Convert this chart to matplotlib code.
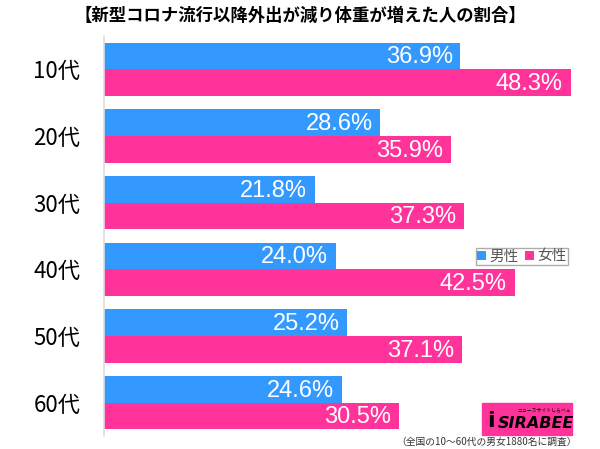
import matplotlib.pyplot as plt, numpy as np
from matplotlib.patches import Rectangle

plt.rcParams['font.family'] = ['Noto Sans CJK JP', 'DejaVu Sans']

ages = ["10代", "20代", "30代", "40代", "50代", "60代"]
male = [36.9, 28.6, 21.8, 24.0, 25.2, 24.6]
female = [48.3, 35.9, 37.3, 42.5, 37.1, 30.5]
series_names = ["男性", "女性"]
title = "【新型コロナ流行以降外出が減り体重が増えた人の割合】"
note = "（全国の10～60代の男女1880名に調査）"

blue = "#3399ff"
pink = "#ff3399"

fig = plt.figure(figsize=(6, 4.49), dpi=100)
ax = fig.add_axes([104 / 600, 13 / 449, 483 / 600, 400 / 449])

y = np.arange(len(ages))
h = 0.4
bm = ax.barh(y - h / 2, male, h, color=blue, label=series_names[0])
bf = ax.barh(y + h / 2, female, h, color=pink, label=series_names[1])

for bars, vals in ((bm, male), (bf, female)):
    for b, v in zip(bars, vals):
        ax.text(v - 0.8, b.get_y() + b.get_height() / 2 + 0.02, f"{v:.1f}%",
                ha="right", va="center", color="white", fontsize=17,
                family=["Liberation Sans"])

ax.set_xlim(0, 50)
ax.set_ylim(len(ages) - 0.5, -0.5)
ax.set_yticks(y)
ax.set_yticklabels(ages, fontsize=16)
ax.tick_params(axis="y", length=0, pad=17)
ax.set_xticks([])
for s in ("top", "right", "bottom"):
    ax.spines[s].set_visible(False)
ax.spines["left"].set_color("#dddddd")
ax.spines["left"].set_linewidth(1.2)

leg = ax.legend(loc="upper left", bbox_to_anchor=(476 / 600, 1 - 248 / 449), bbox_transform=fig.transFigure,
                ncol=2, fontsize=10.5, frameon=True, fancybox=False, edgecolor="#999999",
                handlelength=0.6, handleheight=0.6, handletextpad=0.25, columnspacing=0.4,
                borderpad=0.1, borderaxespad=0)
for t in leg.get_texts():
    t.set_color("#555555")

fig.text(0.5, 1 - 16 / 449, title, ha="center", va="center", fontsize=12.5, fontweight="bold")
fig.text(577 / 600, 1 - 442 / 449, note, ha="right", va="center", fontsize=7, color="#333333")

# logo
fig.patches.append(Rectangle((482 / 600, 1 - 435 / 449), 90 / 600, 32 / 449,
                             transform=fig.transFigure, color=pink, zorder=3))
fig.text(536 / 600, 1 - 423 / 449, "SIRABEE", ha="center", va="center", fontsize=11.5,
         fontweight="bold", style="italic", family=["DejaVu Sans"], zorder=4)
fig.text(544 / 600, 1 - 410 / 449, "ニュースサイトしらべぇ", ha="center", va="center", fontsize=3.5,
         zorder=4)
fig.text(491 / 600, 1 - 421 / 449, "i", ha="center", va="center", fontsize=16,
         fontweight="bold", family=["DejaVu Sans"], zorder=4)

fig.savefig("out.png", dpi=100)
